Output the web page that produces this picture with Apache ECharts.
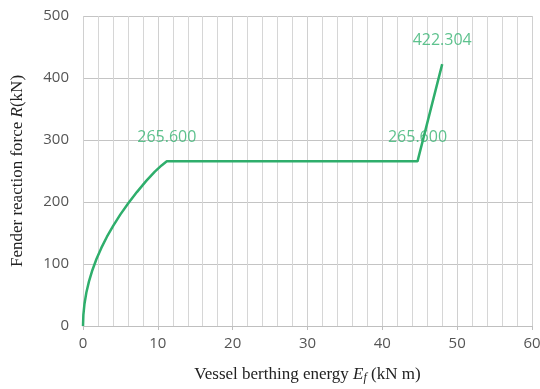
<!DOCTYPE html>
<html>
<head>
<meta charset="utf-8">
<script src="https://cdn.jsdelivr.net/npm/echarts@6/dist/echarts.min.js"></script>
<style>
  html, body { margin: 0; padding: 0; background: #fff; }
  #chart { width: 540px; height: 389px; }
</style>
</head>
<body>
<div id="chart"></div>
<script>
// berthing energy (kN m) and reaction force (kN)
const energy = [0, 0.05, 0.2, 0.45, 0.8, 1.25, 1.8, 2.45, 3.2, 4.05, 5.0, 6.05, 7.2, 8.45, 9.6, 10.5, 11.2, 44.7, 48.0];
const force = [0, 18, 36, 54, 72, 90, 108, 126, 144, 162, 180, 198, 216, 234, 249, 259, 265.6, 265.6, 422.304];
// points that carry a value label
const labelE = [11.2, 44.7, 48.0];
const labelR = [265.6, 265.6, 422.304];

const xTicks = {min: 0, max: 60, step: 10};
const yTicks = {min: 0, max: 500, step: 100};

const green = '#2fae6c';
const labelFont = '"Open Sans", sans-serif';

const chart = echarts.init(document.getElementById('chart'));

chart.setOption({
  animation: false,
  grid: {left: 83, right: 8, top: 16, bottom: 63, outerBoundsMode: 'none'},
  xAxis: {
    type: 'value',
    min: xTicks.min,
    max: xTicks.max,
    interval: xTicks.step,
    name: '{t|Vessel berthing energy }{i|E}{s|f}{t| (kN m)}',
    nameLocation: 'middle',
    nameGap: 40,
    nameTextStyle: {
      rich: {
        t: {fontFamily: '"Liberation Serif", serif', fontSize: 17, color: '#222'},
        i: {fontFamily: '"Liberation Serif", serif', fontSize: 17, fontStyle: 'italic', color: '#222'},
        s: {fontFamily: '"Liberation Serif", serif', fontSize: 12, fontStyle: 'italic', color: '#222', verticalAlign: 'bottom', padding: [6, 0, 0, 0]}
      }
    },
    axisLine: {show: true, lineStyle: {color: '#bfbfbf', width: 1}},
    axisTick: {show: true, length: 4, lineStyle: {color: '#bfbfbf'}},
    minorTick: {show: false, splitNumber: 5},
    splitLine: {show: true, lineStyle: {color: '#d0d0d0', width: 1}},
    minorSplitLine: {show: true, lineStyle: {color: '#d6d6d6', width: 1}},
    axisLabel: {color: '#555', fontSize: 15, fontWeight: 500, fontFamily: labelFont, margin: 10}
  },
  yAxis: {
    type: 'value',
    min: yTicks.min,
    max: yTicks.max,
    interval: yTicks.step,
    name: '{t|Fender reaction force }{i|R}{t|(kN)}',
    nameLocation: 'middle',
    nameGap: 57,
    nameRotate: 90,
    nameTextStyle: {
      rich: {
        t: {fontFamily: '"Liberation Serif", serif', fontSize: 17, color: '#222'},
        i: {fontFamily: '"Liberation Serif", serif', fontSize: 17, fontStyle: 'italic', color: '#222'}
      }
    },
    axisLine: {show: false},
    axisTick: {show: false},
    splitLine: {show: true, lineStyle: {color: '#c4c4c4', width: 1}},
    axisLabel: {color: '#555', fontSize: 15, fontWeight: 500, fontFamily: labelFont, margin: 14}
  },
  series: [{
    type: 'line',
    data: energy.map((e, i) => [e, force[i]]),
    showSymbol: false,
    symbol: 'none',
    lineStyle: {color: green, width: 2.5}
  }, {
    type: 'scatter',
    data: labelE.map((e, i) => [e, labelR[i]]),
    symbolSize: 1,
    itemStyle: {color: 'rgba(0,0,0,0)'},
    label: {
      show: true,
      position: 'top',
      distance: 15,
      formatter: p => p.value[1].toFixed(3),
      color: '#36b372',
      fontSize: 16,
      fontWeight: 500,
      fontFamily: labelFont
    },
    labelLayout: {hideOverlap: false},
    z: 5
  }]
});
</script>
</body>
</html>
